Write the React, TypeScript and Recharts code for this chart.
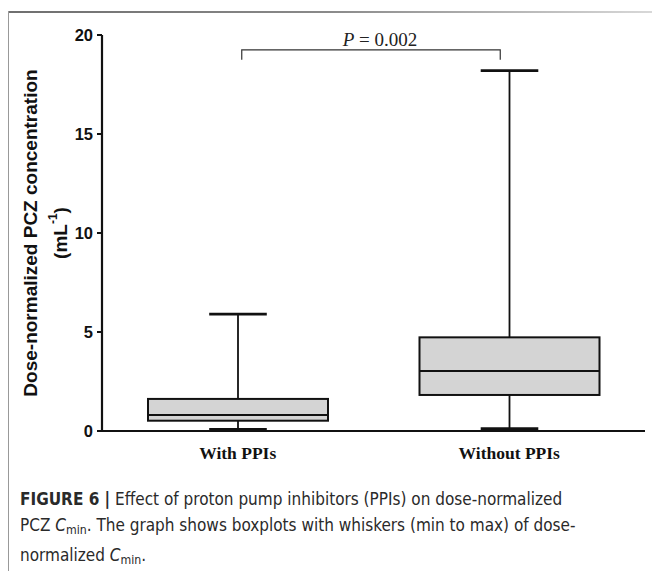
import React from 'react';
import { ComposedChart, Bar, XAxis, YAxis, ReferenceLine, Label } from 'recharts';

const categories = ['With PPIs', 'Without PPIs'];
const mins = [0.08, 0.12];
const q1s = [0.52, 1.82];
const medians = [0.81, 3.03];
const q3s = [1.62, 4.73];
const maxs = [5.9, 18.2];
const yTicks = [0, 5, 10, 15, 20];
const bracketLevel = 19.25;
const pValueText = '0.002';

const data = categories.map((name, i) => ({
  name,
  range: [mins[i], maxs[i]],
  min: mins[i],
  q1: q1s[i],
  median: medians[i],
  q3: q3s[i],
  max: maxs[i],
}));

const BoxShape = (props: any) => {
  const { x, y, width, height, payload } = props;
  if (!payload) return null;
  const { min, max, q1, median, q3 } = payload;
  const toY = (v: number) => y + (height * (max - v)) / (max - min);
  const cx = x + width / 2;
  const capHalf = width * 0.16;
  return (
    <g>
      <line x1={cx} x2={cx} y1={toY(max)} y2={toY(min)} stroke="#111" strokeWidth={1.8} />
      <line x1={cx - capHalf} x2={cx + capHalf} y1={toY(max)} y2={toY(max)} stroke="#111" strokeWidth={2.7} />
      <line x1={cx - capHalf} x2={cx + capHalf} y1={toY(min)} y2={toY(min)} stroke="#111" strokeWidth={2.7} />
      <rect x={x} y={toY(q3)} width={width} height={toY(q1) - toY(q3)} fill="#d4d4d4" stroke="#111" strokeWidth={2} />
      <line x1={x} x2={x + width} y1={toY(median)} y2={toY(median)} stroke="#111" strokeWidth={2} />
    </g>
  );
};

const XTick = (props: any) => {
  const { x, y, payload } = props;
  return (
    <text x={x} y={y + 28} textAnchor="middle" fontFamily="'Liberation Serif', 'Times New Roman', serif" fontWeight="bold" fontSize={17.5} fill="#111">
      {payload.value}
    </text>
  );
};

const YTick = (props: any) => {
  const { x, y, payload } = props;
  return (
    <text x={x} y={y} dy="0.36em" textAnchor="end" fontFamily="'Liberation Sans', Arial, sans-serif" fontWeight="bold" fontSize={16.5} fill="#111">
      {payload.value}
    </text>
  );
};

const YLabel = (props: any) => {
  const vb = props.viewBox || { x: 42, y: 35, width: 60, height: 396 };
  const cy = vb.y + vb.height / 2;
  const x1 = vb.x - 12;
  const x2 = vb.x + 18;
  const font = { fontFamily: "'Liberation Sans', Arial, sans-serif", fontWeight: 'bold' as const, fontSize: 19, fill: '#111' };
  return (
    <g>
      <text x={x1} y={cy} transform={`rotate(-90 ${x1} ${cy})`} textAnchor="middle" dominantBaseline="central" {...font}>
        Dose-normalized PCZ concentration
      </text>
      <text x={x2} y={cy} transform={`rotate(-90 ${x2} ${cy})`} textAnchor="middle" dominantBaseline="central" {...font}>
        <tspan>(mL</tspan>
        <tspan dy={-7} fontSize={12}>-1</tspan>
        <tspan dy={7}>)</tspan>
      </text>
    </g>
  );
};

const BracketShape = (props: any) => {
  const { x1, y1, x2 } = props;
  if (x1 == null) return null;
  const lx = x1 + 4;
  const rx = x2 - 9;
  const mid = (lx + rx) / 2 + 9;
  return (
    <g>
      <path d={`M${lx},${y1 + 10} V${y1} H${rx} V${y1 + 10}`} fill="none" stroke="#333" strokeWidth={1.2} />
      <text x={mid} y={y1 - 4} textAnchor="middle" fontFamily="'Liberation Serif', 'Times New Roman', serif" fontSize={19} fill="#222">
        <tspan fontStyle="italic">P</tspan>
        <tspan> = {pValueText}</tspan>
      </text>
    </g>
  );
};

const captionFont = "'DejaVu Sans Condensed', Arial, sans-serif";

const Cmin = () => (
  <span>
    <i>C</i>
    <sub style={{ fontSize: '0.72em', verticalAlign: '-0.25em' }}>min</sub>
  </span>
);

export default function App() {
  return (
    <div style={{ position: 'absolute', left: 0, top: 0, width: 652, height: 571, background: '#fff', overflow: 'hidden' }}>
      <div style={{ position: 'absolute', left: 9, top: 11, width: 643, height: 2, background: 'linear-gradient(to right, #6f6f6f, #8a8a8a 50%, #d8d8d8)' }} />
      <div style={{ position: 'absolute', left: 8, top: 11, width: 1, height: 560, background: '#999' }} />
      <div style={{ position: 'absolute', left: 0, top: 0 }}>
        <ComposedChart width={652} height={571} data={data} margin={{ top: 35, right: 7, bottom: 110, left: 42 }}>
          <XAxis
            dataKey="name"
            tickLine={false}
            tickSize={0}
            tickMargin={0}
            height={30}
            axisLine={{ stroke: '#111', strokeWidth: 2 }}
            tick={<XTick />}
            interval={0}
          />
          <YAxis
            type="number"
            domain={[0, 20]}
            ticks={yTicks}
            width={60}
            tickSize={5}
            tickMargin={4}
            axisLine={{ stroke: '#111', strokeWidth: 2.2 }}
            tickLine={{ stroke: '#111', strokeWidth: 2 }}
            tick={<YTick />}
            allowDataOverflow
          >
            <Label content={<YLabel />} position="insideLeft" />
          </YAxis>
          <Bar dataKey="range" barSize={180} isAnimationActive={false} shape={<BoxShape />} />
          <ReferenceLine
            segment={[
              { x: categories[0], y: bracketLevel },
              { x: categories[1], y: bracketLevel },
            ]}
            shape={(p: any) => <BracketShape {...p} />}
            ifOverflow="visible"
          />
        </ComposedChart>
      </div>
      <div
        style={{
          position: 'absolute',
          left: 20,
          top: 487,
          fontFamily: captionFont,
          fontSize: 17,
          lineHeight: '25.5px',
          color: '#2a2a2a',
          whiteSpace: 'nowrap',
        }}
      >
        <div>
          <b>FIGURE 6 |</b> Effect of proton pump inhibitors (PPIs) on dose-normalized
        </div>
        <div>
          PCZ <Cmin />. The graph shows boxplots with whiskers (min to max) of dose-
        </div>
        <div>
          normalized <Cmin />.
        </div>
      </div>
    </div>
  );
}
